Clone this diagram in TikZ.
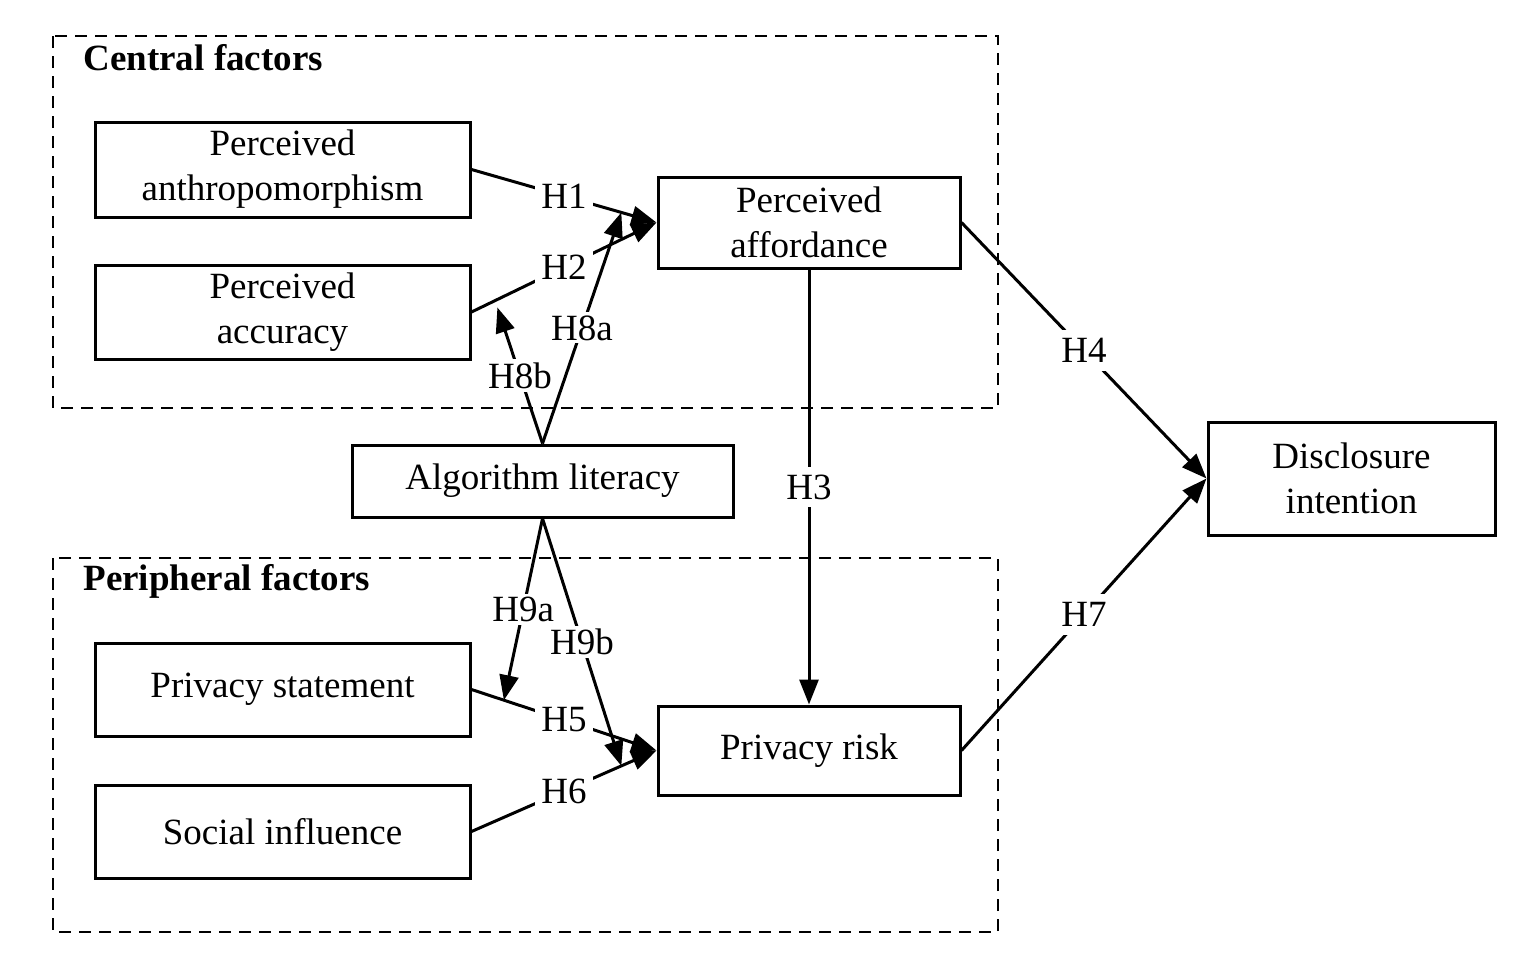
\documentclass[tikz,border=0pt]{standalone}
\usepackage{fontspec}
\setmainfont{Liberation Serif}
\usetikzlibrary{arrows.meta,calc}
\begin{document}
\begin{tikzpicture}[x=1pt,y=-1pt,
  every node/.style={font=\fontsize{37}{45}\selectfont},
  box/.style={draw,line width=3pt,align=center,inner sep=0pt},
  grp/.style={draw,line width=2.8pt,dash pattern=on 12pt off 8pt},
  conn/.style={line width=3pt,-{Triangle[length=25pt,width=19pt]}},
  lab/.style={fill=white,inner xsep=6pt,inner ysep=8pt}]
\useasboundingbox (0,0) rectangle (1513,954);
\fill[white] (0,0) rectangle (1513,954);
% groups
\draw[grp] (53,36) rectangle (998,408);
\draw[grp] (53,558) rectangle (998,932);
\node[anchor=west,font=\fontsize{37}{45}\selectfont\bfseries] (cf) at (80,58) {Central factors};
\node[anchor=west,font=\fontsize{37}{45}\selectfont\bfseries] (pf) at (80,581) {Peripheral factors};
% boxes
\node[box,minimum width=375pt,minimum height=95pt] (anth) at (282.5,169.5) {Perceived\\anthropomorphism};
\node[box,minimum width=375pt,minimum height=94pt] (acc) at (282.5,312) {Perceived\\accuracy};
\node[box,minimum width=302pt,minimum height=91pt] (aff) at (809,222.5) {Perceived\\affordance};
\node[box,minimum width=381pt,minimum height=72pt] (alg) at (542.5,481) {Algorithm literacy};
\node[box,minimum width=287pt,minimum height=113pt] (dis) at (1351.5,478.5) {Disclosure\\intention};
\node[box,minimum width=375pt,minimum height=93pt] (ps) at (282.5,689.5) {Privacy statement};
\node[box,minimum width=375pt,minimum height=93pt] (si) at (282.5,831.5) {Social influence};
\node[box,minimum width=302pt,minimum height=89pt] (pr) at (809,750.5) {Privacy risk};
% helper points
\coordinate (t8a) at ($(anth.east)!0.81!(aff.west)$);
\coordinate (t8b) at ($(acc.east)!0.14!(aff.west)+(0,8)$);
\coordinate (t9a) at ($(ps.east)!0.175!(pr.west)$);
\coordinate (t9b) at ($(si.east)!0.81!(pr.west)$);
\coordinate (algT) at (alg.north);
\coordinate (algB) at (alg.south);
% connectors
\draw[conn] (anth.east) -- node[lab]{H1} (aff.west);
\draw[conn] (acc.east) -- node[lab]{H2} (aff.west);
\draw[conn] (aff.south) -- node[lab]{H3} (pr.north);
\draw[conn] (aff.east) -- node[lab]{H4} (dis.west);
\draw[conn] (ps.east) -- node[lab]{H5} (pr.west);
\draw[conn] (si.east) -- node[lab]{H6} (pr.west);
\draw[conn] (pr.east) -- node[lab]{H7} (dis.west);
\draw[conn] (algT) -- node[lab,inner sep=3pt]{H8a} (t8a);
\draw[conn] (algT) -- node[lab,inner sep=3pt]{H8b} (t8b);
\draw[conn] (algB) -- node[lab,inner sep=3pt]{H9a} (t9a);
\draw[conn] (algB) -- node[lab,inner sep=3pt]{H9b} (t9b);
\end{tikzpicture}
\end{document}
